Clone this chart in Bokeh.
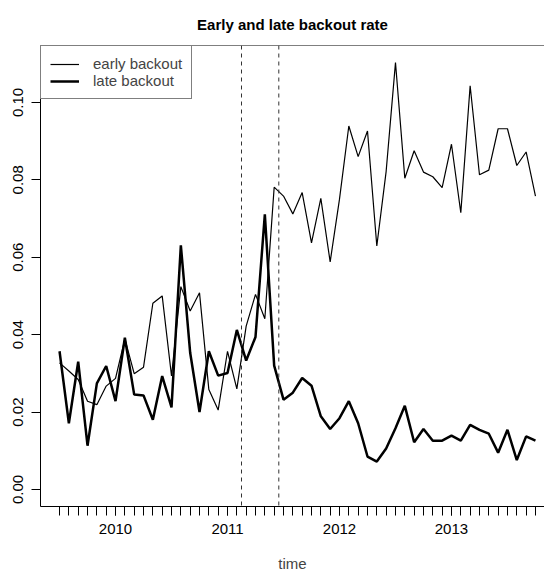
from bokeh.plotting import figure
from bokeh.models import FixedTicker, Span, Legend, LegendItem, NumeralTickFormatter, Range1d
from bokeh.embed import file_html
from bokeh.resources import INLINE

# ---- data (monthly series, start July 2009) ----
START_YEAR = 2009
START_MONTH = 7
early = [0.0327, 0.0306, 0.0284, 0.0228, 0.0219, 0.0267, 0.0287, 0.0389, 0.0299, 0.0316,
         0.0481, 0.0500, 0.0293, 0.0524, 0.0461, 0.0508, 0.0258, 0.0205, 0.0357, 0.0260,
         0.0422, 0.0504, 0.0441, 0.0781, 0.0758, 0.0712, 0.0767, 0.0637, 0.0752, 0.0588,
         0.0750, 0.0939, 0.0860, 0.0926, 0.0629, 0.0822, 0.1103, 0.0804, 0.0875, 0.0820,
         0.0808, 0.0780, 0.0892, 0.0715, 0.1043, 0.0813, 0.0825, 0.0932, 0.0932, 0.0837,
         0.0872, 0.0758]
late = [0.0357, 0.0171, 0.0330, 0.0113, 0.0274, 0.0319, 0.0228, 0.0392, 0.0245, 0.0243,
        0.0180, 0.0293, 0.0212, 0.0631, 0.0353, 0.0200, 0.0357, 0.0294, 0.0301, 0.0412,
        0.0333, 0.0394, 0.0711, 0.0320, 0.0232, 0.0250, 0.0288, 0.0268, 0.0189, 0.0156,
        0.0184, 0.0228, 0.0171, 0.0085, 0.0072, 0.0106, 0.0158, 0.0216, 0.0122, 0.0156,
        0.0126, 0.0126, 0.0139, 0.0126, 0.0167, 0.0154, 0.0144, 0.0095, 0.0154, 0.0076,
        0.0137, 0.0126]
series_names = ["early backout", "late backout"]
year_ticks = [2010, 2011, 2012, 2013]
year_labels = ["2010", "2011", "2012", "2013"]
y_ticks = [0.00, 0.02, 0.04, 0.06, 0.08, 0.10]
change_points = [2011.125, 2011.458]
title_text = "Early and late backout rate"
x_label = "time"

# ---- derived ----
t = [START_YEAR + (START_MONTH - 1 + i) / 12 for i in range(len(early))]
ymin = 0.0
ymax = max(max(early), max(late))
ypad = 0.04 * (ymax - ymin)
y_start, y_end = ymin - ypad, ymax + ypad
tpad = 0.04 * (t[-1] - t[0])
x_start = t[0] - tpad
x_full_end = t[-1] + tpad

FIG_W, FIG_H = 544, 578
LEFT, RIGHT, TOP, BOTTOM = 40, 0, 45, 72
FRAME_W = FIG_W - LEFT - RIGHT
FULL_W = 514  # width the full (uncropped) plot region would have
x_end = x_start + (x_full_end - x_start) * FRAME_W / FULL_W

FONT = "Liberation Sans"
FS = "15px"

p = figure(width=FIG_W, height=FIG_H, output_backend="svg", toolbar_location=None,
           x_range=Range1d(x_start, x_end), y_range=Range1d(y_start, y_end),
           min_border_left=LEFT, min_border_right=RIGHT, min_border_top=TOP,
           min_border_bottom=BOTTOM)
p.outline_line_color = None
p.xgrid.visible = False
p.ygrid.visible = False
p.background_fill_color = "white"
p.border_fill_color = "white"

# title
p.title.text = title_text
p.title.align = "center"
p.title.offset = -10
p.title.text_font = FONT
p.title.text_font_size = FS
p.title.text_font_style = "bold"
p.title.text_color = "black"
p.title.standoff = 26

# x axis
xa = p.xaxis[0]
xa.ticker = FixedTicker(ticks=year_ticks, minor_ticks=t)
xa.major_label_overrides = {y: l for y, l in zip(year_ticks, year_labels)}
xa.major_tick_out = 9
xa.major_tick_in = 0
xa.minor_tick_out = 9
xa.minor_tick_in = 0
xa.major_label_standoff = 8
xa.major_label_text_font = FONT
xa.major_label_text_font_size = FS
xa.major_label_text_font_style = "normal"
xa.major_label_text_color = "black"
xa.axis_label = x_label
xa.axis_label_text_font = FONT
xa.axis_label_text_font_size = FS
xa.axis_label_text_font_style = "normal"
xa.axis_label_standoff = 18
xa.axis_line_color = "black"
xa.major_tick_line_color = "black"
xa.minor_tick_line_color = "black"

# y axis
ya = p.yaxis[0]
ya.ticker = FixedTicker(ticks=y_ticks)
ya.formatter = NumeralTickFormatter(format="0.00")
ya.major_label_orientation = "vertical"
ya.major_tick_out = 9
ya.major_tick_in = 0
ya.minor_tick_line_color = None
ya.major_label_standoff = 8
ya.major_label_text_font = FONT
ya.major_label_text_font_size = FS
ya.major_label_text_font_style = "normal"
ya.major_label_text_color = "black"
ya.axis_line_color = "black"
ya.major_tick_line_color = "black"

# top border of the box
p.add_layout(Span(location=y_end, dimension="width", line_color="black", line_width=1))

# change-point dashed lines
for cp in change_points:
    p.add_layout(Span(location=cp, dimension="height", line_color="#333333",
                      line_width=1, line_dash="4 4"))

r_early = p.line(t, early, line_color="black", line_width=1.2)
r_late = p.line(t, late, line_color="black", line_width=2.5)

legend = Legend(items=[LegendItem(label=series_names[0], renderers=[r_early]),
                       LegendItem(label=series_names[1], renderers=[r_late])],
                location="top_left", margin=0, padding=9, spacing=0,
                label_height=16, glyph_height=16, glyph_width=29, label_standoff=14,
                border_line_color="black", border_line_width=1,
                label_text_font=FONT, label_text_font_size=FS,
                background_fill_color="white", background_fill_alpha=1.0)
p.add_layout(legend)

open("out.html", "w").write(file_html(p, INLINE))
